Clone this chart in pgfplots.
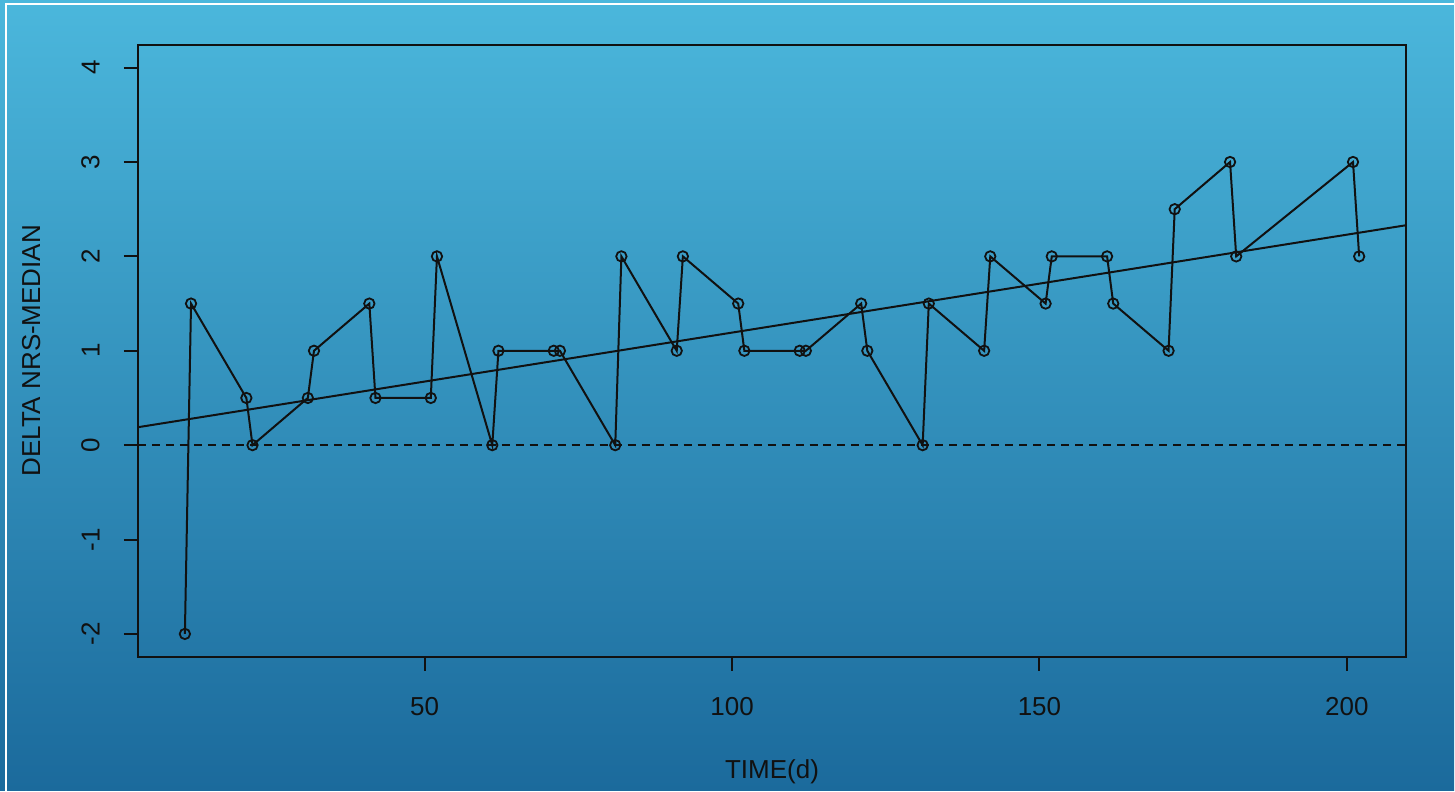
\documentclass[border=0pt]{standalone}
\usepackage{pgfplots}
\pgfplotsset{compat=1.18}
\usepackage{fontspec}
\setmainfont{Liberation Sans}
\definecolor{bgtop}{HTML}{4BB7DC}
\definecolor{bgbot}{HTML}{1B6A9C}
\definecolor{ink}{HTML}{111111}
\pgfplotstableread{
x y
11 -2
12 1.5
21 0.5
22 0
31 0.5
32 1
41 1.5
42 0.5
51 0.5
52 2
61 0
62 1
71 1
72 1
81 0
82 2
91 1
92 2
101 1.5
102 1
111 1
112 1
121 1.5
122 1
131 0
132 1.5
141 1
142 2
151 1.5
152 2
161 2
162 1.5
171 1
172 2.5
181 3
182 2
201 3
202 2
}\datatable
\begin{document}
\begin{tikzpicture}[x=1pt,y=1pt]
\shade[top color=bgtop,bottom color=bgbot] (0,0) rectangle (727.5,395.5);
\draw[white,line width=0.9pt] (3,0) -- (3,393.5) -- (727.5,393.5);
\useasboundingbox (0,0) rectangle (727.5,395.5);
\begin{axis}[
  at={(69pt,67pt)}, anchor=south west,
  scale only axis, width=634.5pt, height=306pt,
  xmin=3.36, xmax=209.64, ymin=-2.24, ymax=4.24,
  xtick={50,100,150,200}, ytick={-2,-1,0,1,2,3,4},
  xtick pos=bottom, ytick pos=left,
  tick align=outside, major tick length=7pt,
  every tick/.style={ink, line width=1pt},
  axis line style={ink, line width=1pt},
  /pgf/number format/assume math mode=true,
  tick label style={font=\fontsize{13}{15}\selectfont, text=ink},
  xticklabel style={anchor=north, inner sep=0pt},
  xticklabel shift=13pt,
  yticklabel style={rotate=90, anchor=south, inner sep=0pt},
  yticklabel shift=12pt,
  xlabel={TIME(d)},
  ylabel={DELTA NRS-MEDIAN},
  label style={font=\fontsize{13}{15}\selectfont, text=ink},
  xlabel style={at={(axis description cs:0.5,0)}, anchor=base, yshift=-61pt},
  ylabel style={at={(axis description cs:-0.0772,0.5)}, anchor=base},
  clip=true,
]
\addplot[ink, line width=1pt, mark=o, mark size=2.6pt, mark options={line width=0.9pt}] table[x=x,y=y] {\datatable};
\addplot[ink, line width=1pt, dashed, dash pattern=on 4pt off 3pt] coordinates {(3.36,0) (209.64,0)};
\addplot[ink, line width=1pt] coordinates {(3.36,0.19) (209.64,2.33)};
\end{axis}
\end{tikzpicture}
\end{document}
